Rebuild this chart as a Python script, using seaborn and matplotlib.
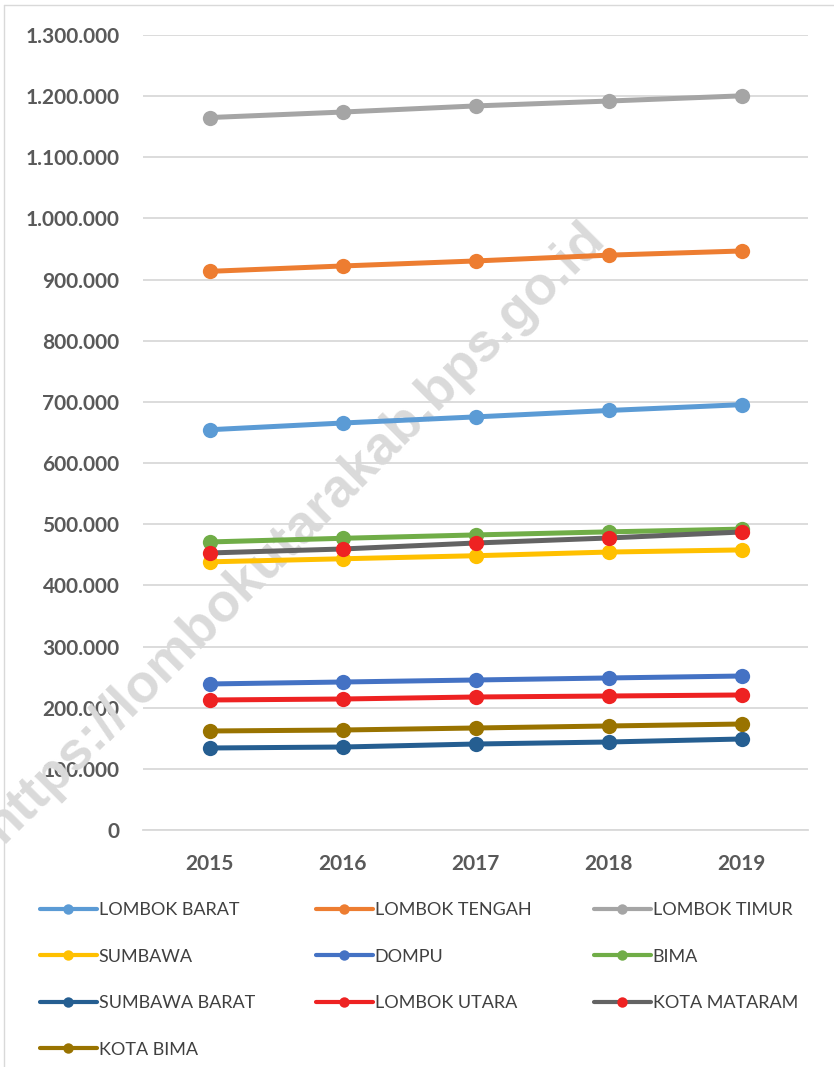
import numpy as np
import pandas as pd
import seaborn as sns
import matplotlib.pyplot as plt
from matplotlib.lines import Line2D
from matplotlib.ticker import FuncFormatter, FixedLocator

# population per kabupaten/kota
years = [2015, 2016, 2017, 2018, 2019]
lombok_barat = [654500, 665500, 675500, 686000, 695500]
lombok_tengah = [913500, 922300, 930500, 940000, 946800]
lombok_timur = [1165000, 1174000, 1184000, 1192000, 1200500]
sumbawa = [438500, 443500, 448500, 454500, 458000]
dompu = [238800, 242000, 245300, 248600, 251800]
bima = [471000, 477000, 482500, 487500, 492000]
sumbawa_barat = [134100, 135700, 140600, 143900, 148800]
lombok_utara = [212600, 214200, 217500, 219100, 220800]
kota_mataram = [453000, 459500, 469300, 477500, 487300]
kota_bima = [161900, 163500, 166800, 170100, 173300]

names = ['LOMBOK BARAT', 'LOMBOK TENGAH', 'LOMBOK TIMUR', 'SUMBAWA', 'DOMPU',
         'BIMA', 'SUMBAWA BARAT', 'LOMBOK UTARA', 'KOTA MATARAM', 'KOTA BIMA']
series = [lombok_barat, lombok_tengah, lombok_timur, sumbawa, dompu,
          bima, sumbawa_barat, lombok_utara, kota_mataram, kota_bima]
colors = ['#5b9bd5', '#ed7d31', '#a5a5a5', '#ffc000', '#4472c4',
          '#70ad47', '#255e91', '#ee2222', '#636363', '#997300']
marker_colors = list(colors)
marker_colors[names.index('KOTA MATARAM')] = '#ee2222'

df = pd.DataFrame({
    'year': np.tile(years, len(names)),
    'region': np.repeat(names, len(years)),
    'value': np.concatenate(series),
})

sns.set_style('white')
plt.rcParams['font.family'] = ['Lato', 'DejaVu Sans']

fig = plt.figure(figsize=(8.34, 10.67), dpi=100)
ax = fig.add_axes([143/834, 1 - 830/1067, (808 - 143)/834, (830 - 35)/1067])
ax.patch.set_visible(False)

sns.lineplot(data=df, x='year', y='value', hue='region', hue_order=names,
             palette=colors, marker='o', markersize=11, markeredgewidth=0,
             linewidth=3.6, legend=False, ax=ax, zorder=3)
for line, mc in zip(ax.lines, marker_colors):
    line.set_markerfacecolor(mc)

ax.set_xlim(2014.5, 2019.5)
ax.set_ylim(0, 1300000)
ax.set_yticks(np.arange(0, 1300001, 100000))
ax.yaxis.set_major_formatter(FuncFormatter(lambda v, p: f'{int(v):,}'.replace(',', '.')))
ax.set_xticks(years)
ax.xaxis.set_minor_locator(FixedLocator([2014.5, 2015.5, 2016.5, 2017.5, 2018.5, 2019.5]))
ax.tick_params(axis='y', length=0, pad=17, labelsize=15, labelcolor='#595959')
ax.tick_params(axis='x', which='major', length=0, pad=17, labelsize=15, labelcolor='#595959')
ax.tick_params(axis='x', which='minor', length=4.5, width=1, color='#d9d9d9', direction='out')
for lab in ax.get_xticklabels() + ax.get_yticklabels():
    lab.set_fontweight('bold')
ax.set_xlabel('')
ax.set_ylabel('')

ax.set_axisbelow(True)
ax.yaxis.grid(True, color='#d9d9d9', linewidth=1.3)
ax.xaxis.grid(False)
sns.despine(ax=ax, left=True, top=True, right=True)
ax.spines['bottom'].set_color('#d9d9d9')
ax.spines['bottom'].set_linewidth(1.3)

# watermark
ax.text(295/834, 1 - 532/1067, 'https://lombokutarakab.bps.go.id',
        transform=fig.transFigure, rotation=45, rotation_mode='anchor',
        ha='center', va='center', fontsize=39, fontweight='bold',
        family='Liberation Sans', color='#dadada', zorder=1.5, clip_on=False)

# legend: three columns placed like the original
handles = [Line2D([], [], color=c, lw=3, marker='o', markersize=7.5,
                  markeredgewidth=0, markerfacecolor=mc)
           for c, mc in zip(colors, marker_colors)]
col_x = [40, 316, 594]
for k in range(3):
    idx = list(range(k, len(names), 3))
    fig.legend([handles[i] for i in idx], [names[i] for i in idx],
               loc='upper left', bbox_to_anchor=(col_x[k]/834, 1 - 902/1067),
               frameon=False, fontsize=13, handlelength=3.15, handletextpad=0.1,
               borderpad=0, borderaxespad=0, labelspacing=1.69,
               labelcolor='#404040')

# outer chart border (left and top only visible)
fig.add_artist(Line2D([4/834, 4/834], [0, 1 - 5/1067], transform=fig.transFigure,
                      color='#d9d9d9', lw=1))
fig.add_artist(Line2D([4/834, 1], [1 - 5/1067, 1 - 5/1067], transform=fig.transFigure,
                      color='#d9d9d9', lw=1))

fig.savefig('out.png', dpi=100)
